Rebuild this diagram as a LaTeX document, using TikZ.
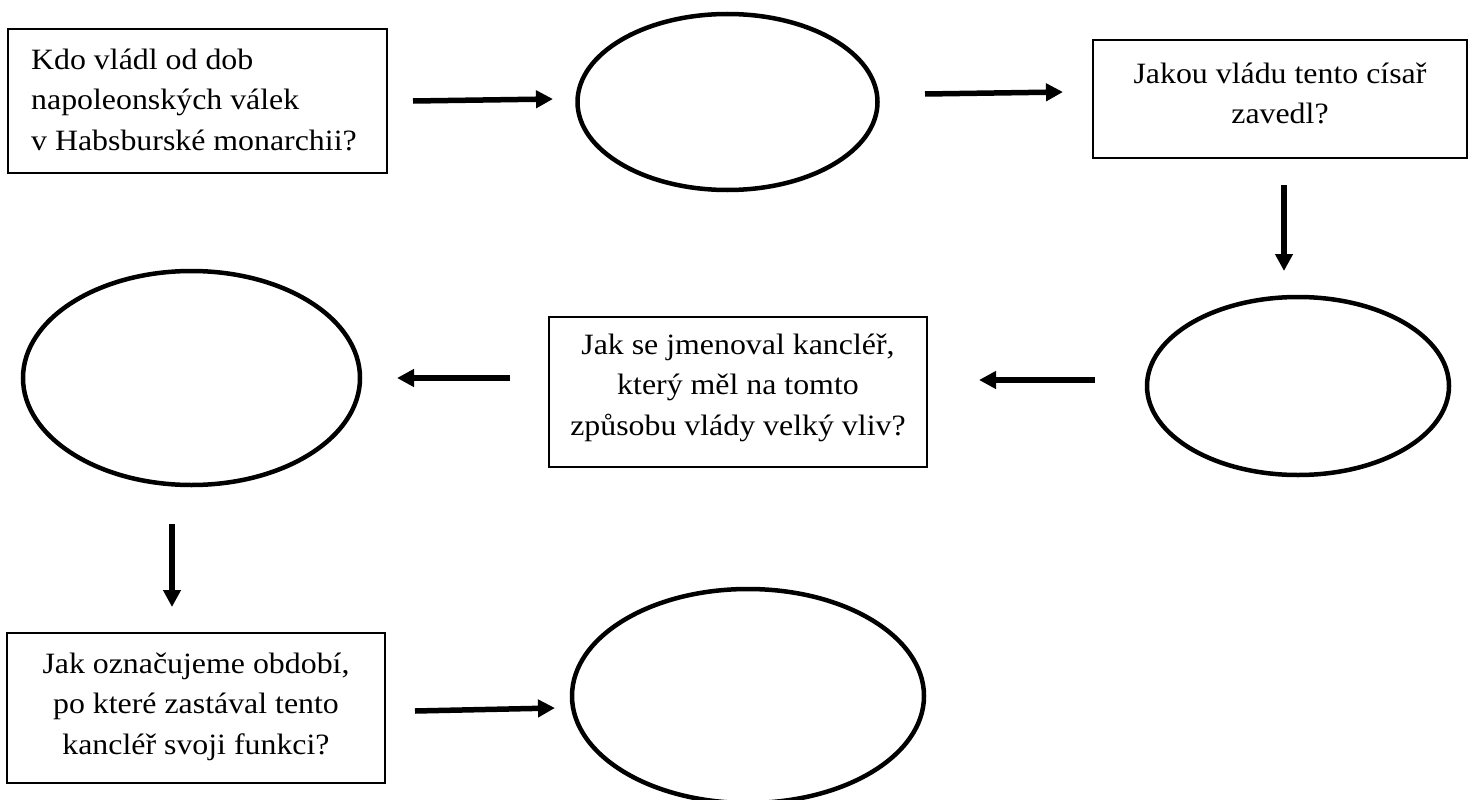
\documentclass[tikz,border=0pt]{standalone}
\usepackage{fontspec}
\setmainfont{Liberation Serif}[FakeStretch=1.08]
\usetikzlibrary{arrows.meta,shapes.geometric}
\tikzset{
  qbox/.style={draw, line width=1.8pt, inner sep=0pt},
  qtext/.style={inner sep=0pt, font=\fontsize{29.5}{40.5}\selectfont},
  blank/.style={draw, line width=4.5pt, ellipse, inner sep=0pt},
  flow/.style={line width=5.5pt, -{Triangle[length=17pt,width=17pt]}}
}
\begin{document}
\begin{tikzpicture}[x=1pt,y=-1pt]
\useasboundingbox (0,0) rectangle (1480,800);
% boxes
\node[qbox, minimum width=379pt, minimum height=144pt] (b1) at (197.5,101) {};
\node[qtext, anchor=north west, align=left] (t1) at (31,44) {\rule{0pt}{25pt}Kdo vládl od dob\\napoleonských válek\\v Habsburské monarchii?};
\node[qbox, minimum width=374pt, minimum height=118pt] (b2) at (1280,99) {};
\node[qtext, anchor=north, align=center] (t2) at (1280,58) {\rule{0pt}{25pt}Jakou vládu tento císař\\zavedl?};
\node[qbox, minimum width=378pt, minimum height=150pt] (b3) at (738,392) {};
\node[qtext, anchor=north, align=center] (t3) at (738,329) {\rule{0pt}{25pt}Jak se jmenoval kancléř,\\který měl na tomto\\způsobu vlády velký vliv?};
\node[qbox, minimum width=378pt, minimum height=150pt] (b4) at (196,708) {};
\node[qtext, anchor=north, align=center] (t4) at (196,648) {\rule{0pt}{25pt}Jak označujeme období,\\po které zastával tento\\kancléř svoji funkci?};
% ellipses
\node[blank, minimum width=300pt, minimum height=176pt] (e1) at (727.5,102) {};
\node[blank, minimum width=302pt, minimum height=178pt] (e2) at (1298,386) {};
\node[blank, minimum width=337pt, minimum height=214pt] (e3) at (191.5,378) {};
\node[blank, minimum width=352pt, minimum height=214pt] (e4) at (748,696) {};
% arrows
\coordinate (a1s) at (413,101); \coordinate (a1e) at (553,99);
\coordinate (a2s) at (925,94); \coordinate (a2e) at (1063,92);
\coordinate (a3s) at (1284,185); \coordinate (a3e) at (1284,271);
\coordinate (a4s) at (1095,380); \coordinate (a4e) at (979,380);
\coordinate (a5s) at (510,378); \coordinate (a5e) at (397,378);
\coordinate (a6s) at (172,524); \coordinate (a6e) at (172,607);
\coordinate (a7s) at (415,711); \coordinate (a7e) at (555,708);
\draw[flow] (a1s) -- (a1e);
\draw[flow] (a2s) -- (a2e);
\draw[flow] (a3s) -- (a3e);
\draw[flow] (a4s) -- (a4e);
\draw[flow] (a5s) -- (a5e);
\draw[flow] (a6s) -- (a6e);
\draw[flow] (a7s) -- (a7e);
\end{tikzpicture}
\end{document}
